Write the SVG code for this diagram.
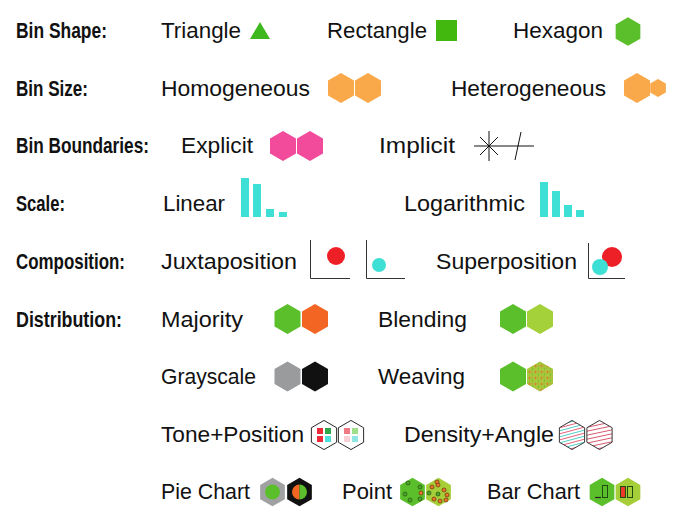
<svg xmlns="http://www.w3.org/2000/svg" width="677" height="523" viewBox="0 0 677 523">
<style>
.h{font-family:"Liberation Sans",Arial,sans-serif;font-weight:bold;font-size:22px;fill:#111}
.t{font-family:"Liberation Sans",Arial,sans-serif;font-size:22px;fill:#111}
.ax{stroke:#333;stroke-width:1;fill:none}
.ol{fill:#fff;stroke:#222;stroke-width:1}
</style>
<defs>
<path id="hx" d="M0,-15 L13,-7.5 L13,7.5 L0,15 L-13,7.5 L-13,-7.5Z"/>
<pattern id="weave" width="6" height="6" patternUnits="userSpaceOnUse">
<rect width="6" height="6" fill="#a8c83c"/>
<circle cx="1.5" cy="1.5" r="0.9" fill="#e8602a"/>
<circle cx="4.5" cy="4" r="0.8" fill="#5bbf2b"/>
<circle cx="4" cy="1" r="0.6" fill="#e8602a"/>
</pattern>
<pattern id="dA" width="6" height="6" patternUnits="userSpaceOnUse" patternTransform="rotate(-15)">
<rect width="6" height="6" fill="#fff"/>
<line x1="0" y1="1.5" x2="6" y2="1.5" stroke="#e0506a" stroke-width="0.9"/>
<line x1="0" y1="4.5" x2="6" y2="4.5" stroke="#3cc9c0" stroke-width="0.9"/>
</pattern>
<pattern id="dB" width="4" height="4" patternUnits="userSpaceOnUse" patternTransform="rotate(-12)">
<rect width="4" height="4" fill="#fff"/>
<line x1="0" y1="1.5" x2="4" y2="1.5" stroke="#d2445a" stroke-width="0.9"/>
</pattern>
</defs>

<g id="labels">
<text class="h" x="16" y="38" textLength="91" lengthAdjust="spacingAndGlyphs">Bin Shape:</text>
<text class="h" x="16" y="96" textLength="72" lengthAdjust="spacingAndGlyphs">Bin Size:</text>
<text class="h" x="16" y="153" textLength="133" lengthAdjust="spacingAndGlyphs">Bin Boundaries:</text>
<text class="h" x="16" y="211" textLength="49" lengthAdjust="spacingAndGlyphs">Scale:</text>
<text class="h" x="16" y="269" textLength="109" lengthAdjust="spacingAndGlyphs">Composition:</text>
<text class="h" x="16" y="327" textLength="106" lengthAdjust="spacingAndGlyphs">Distribution:</text>
</g>

<g id="triangle">
<text class="t" x="161" y="38" textLength="80" lengthAdjust="spacingAndGlyphs">Triangle</text>
<polygon points="260,22 270,39 250,39" fill="#3db81e"/>
</g>
<g id="rectangle">
<text class="t" x="327" y="38" textLength="100" lengthAdjust="spacingAndGlyphs">Rectangle</text>
<rect x="436" y="20" width="21" height="21" fill="#42b80f"/>
</g>
<g id="hexagon">
<text class="t" x="513" y="38" textLength="90" lengthAdjust="spacingAndGlyphs">Hexagon</text>
<use href="#hx" transform="translate(628,31.5) scale(0.95)" fill="#5bbf2b"/>
</g>

<g id="homogeneous">
<text class="t" x="161" y="96" textLength="149" lengthAdjust="spacingAndGlyphs">Homogeneous</text>
<use href="#hx" transform="translate(341,88)" fill="#f9a84a"/>
<use href="#hx" transform="translate(368,88)" fill="#f9a84a"/>
</g>
<g id="heterogeneous">
<text class="t" x="451" y="96" textLength="155" lengthAdjust="spacingAndGlyphs">Heterogeneous</text>
<use href="#hx" transform="translate(637,88)" fill="#f9a84a"/>
<use href="#hx" transform="translate(658,88) scale(0.6)" fill="#f9a84a"/>
</g>

<g id="explicit">
<text class="t" x="181" y="153" textLength="72" lengthAdjust="spacingAndGlyphs">Explicit</text>
<use href="#hx" transform="translate(283,146)" fill="#f24b9b"/>
<use href="#hx" transform="translate(310,146)" fill="#f24b9b"/>
</g>
<g id="implicit">
<text class="t" x="379" y="153" textLength="76" lengthAdjust="spacingAndGlyphs">Implicit</text>
<g stroke="#111" stroke-width="1" fill="none">
<line x1="474" y1="146" x2="534" y2="146"/>
<line x1="489" y1="131" x2="489" y2="161"/>
<line x1="480" y1="137" x2="498" y2="155"/>
<line x1="480" y1="155" x2="498" y2="137"/>
<line x1="521" y1="132" x2="515" y2="160"/>
</g>
</g>

<g id="linear" fill="#3ee0d5">
<text class="t" x="163" y="211" textLength="62" lengthAdjust="spacingAndGlyphs">Linear</text>
<rect x="241" y="178" width="8" height="39"/>
<rect x="253" y="184" width="8" height="33"/>
<rect x="266" y="209" width="8" height="8"/>
<rect x="279" y="212" width="8" height="5"/>
</g>
<g id="logarithmic" fill="#3ee0d5">
<text class="t" x="404" y="211" textLength="121" lengthAdjust="spacingAndGlyphs">Logarithmic</text>
<rect x="540" y="182" width="8" height="35"/>
<rect x="552" y="191" width="8" height="26"/>
<rect x="564" y="205" width="8" height="12"/>
<rect x="576" y="210" width="8" height="7"/>
</g>

<g id="juxtaposition">
<text class="t" x="161" y="269" textLength="136" lengthAdjust="spacingAndGlyphs">Juxtaposition</text>
<path class="ax" d="M310.5,240 V278.5 H350"/>
<circle cx="336" cy="256" r="9" fill="#ee2027"/>
<path class="ax" d="M366.5,240 V278.5 H405"/>
<circle cx="379" cy="265" r="7" fill="#3ee0d5"/>
</g>
<g id="superposition">
<text class="t" x="436" y="269" textLength="141" lengthAdjust="spacingAndGlyphs">Superposition</text>
<path class="ax" d="M588.5,243 V278.5 H625"/>
<circle cx="612" cy="257" r="10" fill="#ee2027"/>
<circle cx="600" cy="267" r="8" fill="#3ee0d5"/>
</g>

<g id="majority">
<text class="t" x="161" y="327" textLength="82" lengthAdjust="spacingAndGlyphs">Majority</text>
<use href="#hx" transform="translate(287.5,319)" fill="#5bbf2b"/>
<use href="#hx" transform="translate(315,319)" fill="#f26522"/>
</g>
<g id="blending">
<text class="t" x="378" y="327" textLength="89" lengthAdjust="spacingAndGlyphs">Blending</text>
<use href="#hx" transform="translate(513,319)" fill="#5bbf2b"/>
<use href="#hx" transform="translate(540,319)" fill="#a4d13a"/>
</g>

<g id="grayscale">
<text class="t" x="161" y="384" textLength="95" lengthAdjust="spacingAndGlyphs">Grayscale</text>
<use href="#hx" transform="translate(287.5,376.5)" fill="#9a9b9c"/>
<use href="#hx" transform="translate(315,376.5)" fill="#111"/>
</g>
<g id="weaving">
<text class="t" x="378" y="384" textLength="87" lengthAdjust="spacingAndGlyphs">Weaving</text>
<use href="#hx" transform="translate(513,376.5)" fill="#5bbf2b"/>
<use href="#hx" transform="translate(540,376.5)" fill="url(#weave)"/>
</g>

<g id="tone-position">
<text class="t" x="161" y="442" textLength="143" lengthAdjust="spacingAndGlyphs">Tone+Position</text>
<use href="#hx" class="ol" transform="translate(324,435) scale(0.97)"/>
<rect x="317" y="428" width="6" height="6" fill="#ee2a3a"/>
<rect x="325" y="428" width="6" height="6" fill="#2ea84a"/>
<rect x="317" y="436" width="6" height="6" fill="#ee2a3a"/>
<rect x="325" y="436" width="6" height="6" fill="#4ee0dc"/>
<use href="#hx" class="ol" transform="translate(351,435) scale(0.97)"/>
<rect x="344" y="428" width="6" height="6" fill="#f07a84"/>
<rect x="352" y="428" width="6" height="6" fill="#9ee08a"/>
<rect x="344" y="436" width="6" height="6" fill="#f8d0d6"/>
<rect x="352" y="436" width="6" height="6" fill="#8ee6e2"/>
</g>
<g id="density-angle">
<text class="t" x="404" y="442" textLength="150" lengthAdjust="spacingAndGlyphs">Density+Angle</text>
<use href="#hx" transform="translate(572,435) scale(0.97)" fill="url(#dA)" stroke="#333" stroke-width="1"/>
<use href="#hx" transform="translate(599.5,435) scale(0.97)" fill="url(#dB)" stroke="#333" stroke-width="1"/>
</g>

<g id="pie-chart">
<text class="t" x="161" y="499" textLength="89" lengthAdjust="spacingAndGlyphs">Pie Chart</text>
<use href="#hx" transform="translate(272.5,492) scale(0.95)" fill="#a0a1a3"/>
<circle cx="272.5" cy="492" r="7.5" fill="#5bbf2b"/>
<use href="#hx" transform="translate(299.5,492) scale(0.95)" fill="#111"/>
<path d="M299.5,484.5 A7.5,7.5 0 0 0 299.5,499.5 Z" fill="#f26522"/>
<path d="M299.5,484.5 A7.5,7.5 0 0 1 299.5,499.5 Z" fill="#5bbf2b"/>
</g>
<g id="point">
<text class="t" x="342" y="499" textLength="50" lengthAdjust="spacingAndGlyphs">Point</text>
<use href="#hx" transform="translate(412.5,492) scale(0.95)" fill="#5bbf2b"/>
<g stroke="#2d5a12" stroke-width="0.8" fill="#4aa82a">
<circle cx="408" cy="483" r="2"/>
<circle cx="420" cy="487" r="2"/>
<circle cx="405" cy="494" r="2"/>
<circle cx="410" cy="500" r="2"/>
<circle cx="420" cy="499" r="2"/>
</g>
<circle cx="421" cy="493" r="2" fill="#e8762b" stroke="#7a3b10" stroke-width="0.8"/>
<use href="#hx" transform="translate(438.5,492) scale(0.95)" fill="#a6ce39"/>
<g stroke="#7a3b10" stroke-width="0.8" fill="#e8762b">
<circle cx="437" cy="482" r="2"/>
<circle cx="432" cy="487" r="2"/>
<circle cx="444" cy="490" r="2"/>
<circle cx="447" cy="495" r="2"/>
<circle cx="434" cy="499" r="2"/>
<circle cx="440" cy="501" r="2"/>
<circle cx="446" cy="500" r="2"/>
<circle cx="438" cy="485" r="2"/>
</g>
<g stroke="#2d5a12" stroke-width="0.8" fill="#4aa82a">
<circle cx="429" cy="493" r="2"/>
<circle cx="438" cy="494" r="2"/>
</g>
</g>
<g id="bar-chart">
<text class="t" x="487" y="499" textLength="93" lengthAdjust="spacingAndGlyphs">Bar Chart</text>
<use href="#hx" transform="translate(602,492) scale(0.95)" fill="#5bbf2b"/>
<line x1="595" y1="497.5" x2="601" y2="497.5" stroke="#222" stroke-width="1.2"/>
<rect x="602.5" y="485.5" width="5" height="12" fill="none" stroke="#1f4d10" stroke-width="1"/>
<use href="#hx" transform="translate(628,492) scale(0.95)" fill="#a6ce39"/>
<rect x="620.5" y="486.5" width="5" height="11" fill="#ee3a2a" stroke="#1f4d10" stroke-width="1"/>
<rect x="627.5" y="486.5" width="5" height="11" fill="none" stroke="#1f4d10" stroke-width="1"/>
</g>
</svg>
